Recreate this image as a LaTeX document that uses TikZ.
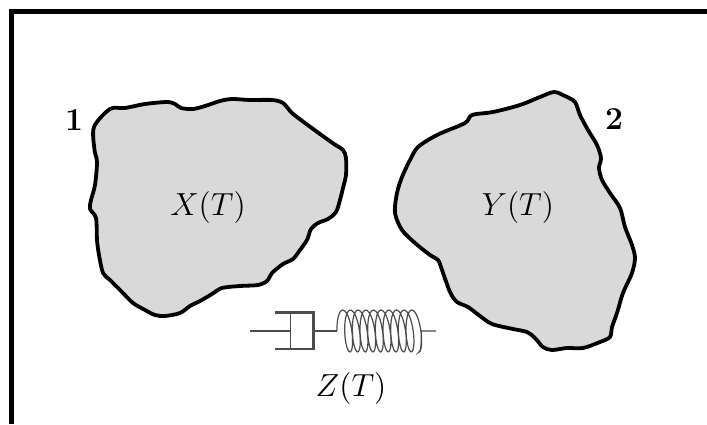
\documentclass[tikz,border=0pt]{standalone}
\usepackage{amsmath}
\usepackage{xcolor}
\usetikzlibrary{calc,positioning}
\definecolor{blobgray}{gray}{0.85}
\definecolor{springgray}{gray}{0.3}

\begin{document}
\begin{tikzpicture}[x=0.5pt,y=-0.5pt]
      \tikzstyle{blob} = [line width=1.9pt, draw=black, fill=blobgray, line join=round]
      \tikzstyle{lnode} = [inner sep=0pt, font=\large, scale=1.33]
      \tikzstyle{damper} = [line width=1.3pt, draw=black!70]
      \tikzstyle{coil} = [line width=0.6pt, draw=springgray]

      \useasboundingbox (0,0) rectangle (707,424);
      % frame
      \draw[line width=2.6pt, line join=miter] (11.7,424) -- (11.7,11.7) -- (707,11.7);

      % body 1
      \draw[blob] plot[smooth cycle, tension=0.5] coordinates {
        (94,127) (110,109) (125,108) (145,104) (167,102) (175,104) (181,108) (193,109)
        (205,106) (220,101) (232,99) (250,100) (272,100) (283,103) (292,113) (305,123)
        (320,134) (334,144) (343,150) (346,158) (346,175) (343,188) (340,200) (336,212)
        (328,219) (318,223) (311,229) (307,240) (300,250) (293,259) (283,264) (272,273)
        (267,281) (258,285) (240,286) (222,288) (212,294) (200,301) (190,306) (180,313)
        (165,316) (155,315) (145,310) (133,303) (122,292) (110,280) (103,273) (99,255)
        (97,240) (96,218) (90,209) (91,200) (95,185) (97,162) (94.5,150)};

      % body 2
      \draw[blob] plot[smooth cycle, tension=0.5] coordinates {
        (554,92) (565,96) (575,102) (580,115) (588,130) (597,145) (601,158) (599,168)
        (602,180) (610,193) (620,208) (625,227) (632,245) (635,258) (632,273) (623,293)
        (617,313) (612,327) (610,337) (600,342) (583,348) (567,348) (552,350) (543,347)
        (535,338) (527,332) (513,329) (492,324) (480,316) (468,307) (457,302) (450,292)
        (442,270) (438,260) (430,255) (415,243) (402,230) (395,213) (397,193) (402,177)
        (410,160) (418,147) (437,135) (465,123) (472,115) (493,112) (520,105) (540,97)};

      \node[lnode] (xt) at (208,208) {$X(T)$};
      \node[lnode] (yt) at (518,208) {$Y(T)$};
      \node[lnode] (zt) at (351,389) {$Z(T)$};
      \node[lnode] (one) at (74,120) {$\mathbf{1}$};
      \node[lnode] (two) at (614,119) {$\mathbf{2}$};

      % damper
      \coordinate (rodl) at (250,331);
      \coordinate (rodr) at (290.5,331);
      \coordinate (capt) at (275,312.5);
      \coordinate (capb) at (275,349);
      \coordinate (wallt) at (313.5,312.5);
      \coordinate (wallb) at (313.5,349);
      \coordinate (link) at (337,331);
      \coordinate (endl) at (421.5,331);
      \coordinate (endr) at (436,331);

      \draw[damper] (rodl) -- (rodr);
      \draw[damper] (capt) -- (wallt) -- (wallb) -- (capb);
      \draw[damper, line width=0.8pt] (rodr |- capt) -- (rodr |- capb);
      \draw[damper, line width=0.8pt] (313.5,331) -- (link);

      % spring
      \draw[coil] plot[smooth, samples=200, domain=0:3510, variable=\t]
        ({337 + \t/360*7.67 + 5.5*(1 - cos(\t)) - 1.7*sin(\t)}, {331 - 21*sin(\t)})
        .. controls (422.5,350) and (420.5,331) .. (endl) -- (endr);
\end{tikzpicture}
\end{document}
